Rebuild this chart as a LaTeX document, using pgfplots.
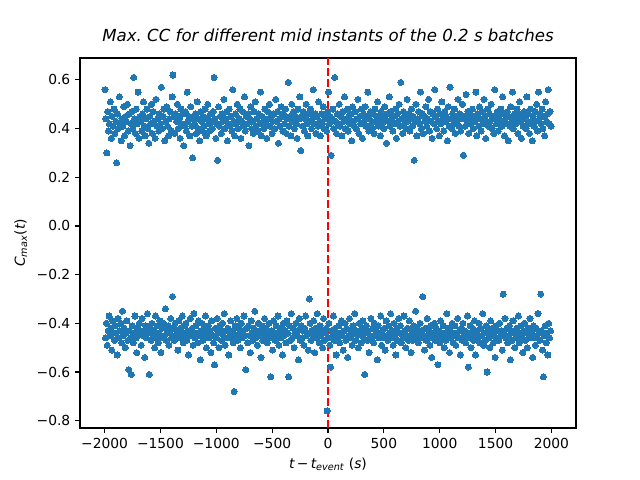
\documentclass[border=0pt]{standalone}
\usepackage{fontspec}
\setmainfont{DejaVu Sans}
\usepackage{pgfplots}
\usepackage{pgfplotstable}
\pgfplotsset{compat=1.18}
\definecolor{mplblue}{RGB}{31,119,180}

% maximum positive correlation for each batch mid instant
\pgfplotstableread{
x y
-1996 0.56
-1988 0.44
-1980 0.30
-1972 0.47
-1964 0.39
-1956 0.42
-1948 0.51
-1940 0.36
-1932 0.45
-1924 0.41
-1916 0.48
-1908 0.38
-1900 0.43
-1892 0.26
-1884 0.46
-1876 0.40
-1868 0.53
-1860 0.42
-1852 0.35
-1844 0.44
-1836 0.41
-1828 0.49
-1820 0.37
-1812 0.45
-1804 0.43
-1796 0.50
-1788 0.39
-1780 0.46
-1772 0.33
-1764 0.42
-1756 0.47
-1748 0.40
-1740 0.61
-1732 0.44
-1724 0.38
-1716 0.48
-1708 0.42
-1700 0.55
-1692 0.36
-1684 0.45
-1676 0.43
-1668 0.39
-1660 0.46
-1652 0.51
-1644 0.41
-1636 0.37
-1628 0.44
-1620 0.48
-1612 0.40
-1604 0.34
-1596 0.45
-1588 0.42
-1580 0.50
-1572 0.38
-1564 0.47
-1556 0.43
-1548 0.36
-1540 0.52
-1532 0.41
-1524 0.44
-1516 0.39
-1508 0.46
-1500 0.42
-1492 0.57
-1484 0.40
-1476 0.45
-1468 0.48
-1460 0.35
-1452 0.43
-1444 0.49
-1436 0.41
-1428 0.37
-1420 0.44
-1412 0.47
-1404 0.39
-1396 0.53
-1388 0.62
-1380 0.45
-1372 0.38
-1364 0.46
-1356 0.43
-1348 0.50
-1340 0.40
-1332 0.44
-1324 0.36
-1316 0.48
-1308 0.42
-1300 0.46
-1292 0.33
-1284 0.41
-1276 0.47
-1268 0.39
-1260 0.55
-1252 0.43
-1244 0.45
-1236 0.37
-1228 0.49
-1220 0.41
-1212 0.28
-1204 0.44
-1196 0.42
-1188 0.46
-1180 0.38
-1172 0.51
-1164 0.40
-1156 0.44
-1148 0.35
-1140 0.47
-1132 0.43
-1124 0.39
-1116 0.45
-1108 0.41
-1100 0.48
-1092 0.37
-1084 0.44
-1076 0.50
-1068 0.42
-1060 0.39
-1052 0.46
-1044 0.43
-1036 0.40
-1028 0.47
-1020 0.61
-1012 0.44
-1004 0.36
-996 0.42
-988 0.27
-980 0.49
-972 0.41
-964 0.45
-956 0.38
-948 0.46
-940 0.43
-932 0.52
-924 0.40
-916 0.44
-908 0.47
-900 0.35
-892 0.42
-884 0.48
-876 0.41
-868 0.45
-860 0.39
-852 0.56
-844 0.43
-836 0.37
-828 0.46
-820 0.42
-812 0.50
-804 0.40
-796 0.44
-788 0.48
-780 0.36
-772 0.43
-764 0.47
-756 0.41
-748 0.53
-740 0.39
-732 0.45
-724 0.42
-716 0.46
-708 0.33
-700 0.44
-692 0.49
-684 0.40
-676 0.43
-668 0.38
-660 0.47
-652 0.51
-644 0.41
-636 0.44
-628 0.39
-620 0.46
-612 0.42
-604 0.55
-596 0.37
-588 0.45
-580 0.43
-572 0.40
-564 0.48
-556 0.42
-548 0.36
-540 0.47
-532 0.44
-524 0.50
-516 0.41
-508 0.45
-500 0.38
-492 0.43
-484 0.46
-476 0.40
-468 0.52
-460 0.43
-452 0.47
-444 0.34
-436 0.44
-428 0.41
-420 0.49
-412 0.45
-404 0.39
-396 0.46
-388 0.42
-380 0.48
-372 0.38
-364 0.44
-356 0.59
-348 0.41
-340 0.45
-332 0.37
-324 0.50
-316 0.43
-308 0.47
-300 0.40
-292 0.45
-284 0.42
-276 0.36
-268 0.48
-260 0.44
-252 0.53
-244 0.31
-236 0.45
-228 0.41
-220 0.47
-212 0.39
-204 0.44
-196 0.50
-188 0.42
-180 0.37
-172 0.46
-164 0.43
-156 0.48
-148 0.40
-140 0.44
-132 0.56
-124 0.42
-116 0.46
-108 0.38
-100 0.45
-92 0.41
-84 0.51
-76 0.43
-68 0.37
-60 0.46
-52 0.42
-44 0.49
-36 0.40
-28 0.45
-20 0.44
-12 0.39
-4 0.47
4 0.55
12 0.42
20 0.45
28 0.29
36 0.44
44 0.48
52 0.40
60 0.61
68 0.43
76 0.38
84 0.46
92 0.42
100 0.50
108 0.41
116 0.45
124 0.37
132 0.47
140 0.43
148 0.53
156 0.40
164 0.44
172 0.48
180 0.39
188 0.45
196 0.42
204 0.46
212 0.35
220 0.49
228 0.43
236 0.41
244 0.47
252 0.40
260 0.44
268 0.52
276 0.38
284 0.45
292 0.42
300 0.48
308 0.36
316 0.46
324 0.43
332 0.49
340 0.41
348 0.45
356 0.55
364 0.39
372 0.44
380 0.47
388 0.42
396 0.40
404 0.46
412 0.38
420 0.48
428 0.43
436 0.45
444 0.51
452 0.41
460 0.44
468 0.37
476 0.47
484 0.42
492 0.45
500 0.40
508 0.49
516 0.44
524 0.34
532 0.46
540 0.43
548 0.53
556 0.41
564 0.47
572 0.44
580 0.39
588 0.45
596 0.42
604 0.48
612 0.36
620 0.46
628 0.43
636 0.50
644 0.41
652 0.59
660 0.44
668 0.38
676 0.47
684 0.42
692 0.45
700 0.40
708 0.52
716 0.43
724 0.46
732 0.39
740 0.44
748 0.48
756 0.41
764 0.45
772 0.27
780 0.43
788 0.50
796 0.37
804 0.44
812 0.47
820 0.42
828 0.55
836 0.40
844 0.46
852 0.38
860 0.45
868 0.43
876 0.49
884 0.41
892 0.44
900 0.52
908 0.39
916 0.47
924 0.43
932 0.36
940 0.46
948 0.42
956 0.56
964 0.45
972 0.40
980 0.48
988 0.43
996 0.37
1004 0.46
1012 0.42
1020 0.51
1028 0.44
1036 0.39
1044 0.47
1052 0.43
1060 0.45
1068 0.35
1076 0.49
1084 0.41
1092 0.57
1100 0.44
1108 0.40
1116 0.46
1124 0.42
1132 0.48
1140 0.38
1148 0.45
1156 0.43
1164 0.52
1172 0.41
1180 0.46
1188 0.39
1196 0.44
1204 0.50
1212 0.29
1220 0.45
1228 0.41
1236 0.54
1244 0.43
1252 0.47
1260 0.38
1268 0.44
1276 0.46
1284 0.42
1292 0.48
1300 0.40
1308 0.45
1316 0.43
1324 0.55
1332 0.37
1340 0.46
1348 0.41
1356 0.49
1364 0.44
1372 0.39
1380 0.47
1388 0.42
1396 0.52
1404 0.45
1412 0.36
1420 0.43
1428 0.48
1436 0.41
1444 0.46
1452 0.43
1460 0.50
1468 0.40
1476 0.45
1484 0.38
1492 0.56
1500 0.44
1508 0.42
1516 0.47
1524 0.39
1532 0.45
1540 0.43
1548 0.48
1556 0.41
1564 0.53
1572 0.46
1580 0.37
1588 0.44
1596 0.42
1604 0.47
1612 0.35
1620 0.45
1628 0.41
1636 0.49
1644 0.43
1652 0.55
1660 0.40
1668 0.46
1676 0.44
1684 0.42
1692 0.48
1700 0.38
1708 0.46
1716 0.51
1724 0.43
1732 0.36
1740 0.45
1748 0.41
1756 0.47
1764 0.44
1772 0.40
1780 0.53
1788 0.42
1796 0.46
1804 0.38
1812 0.48
1820 0.43
1828 0.35
1836 0.45
1844 0.41
1852 0.47
1860 0.43
1868 0.50
1876 0.39
1884 0.55
1892 0.44
1900 0.46
1908 0.42
1916 0.48
1924 0.40
1932 0.45
1940 0.37
1948 0.51
1956 0.43
1964 0.46
1972 0.56
1980 0.42
1988 0.47
1996 0.41
}\positivepeaks

% maximum negative correlation for each batch mid instant
\pgfplotstableread{
x y
-1992 -0.46
-1984 -0.40
-1976 -0.49
-1968 -0.43
-1960 -0.37
-1952 -0.45
-1944 -0.42
-1936 -0.51
-1928 -0.39
-1920 -0.44
-1912 -0.47
-1904 -0.41
-1896 -0.44
-1888 -0.53
-1880 -0.38
-1872 -0.46
-1864 -0.43
-1856 -0.40
-1848 -0.48
-1840 -0.35
-1832 -0.45
-1824 -0.42
-1816 -0.50
-1808 -0.44
-1800 -0.39
-1792 -0.47
-1784 -0.59
-1776 -0.43
-1768 -0.46
-1760 -0.61
-1752 -0.41
-1744 -0.48
-1736 -0.44
-1728 -0.37
-1720 -0.46
-1712 -0.52
-1704 -0.42
-1696 -0.45
-1688 -0.40
-1680 -0.43
-1672 -0.49
-1664 -0.38
-1656 -0.45
-1648 -0.43
-1640 -0.54
-1632 -0.41
-1624 -0.46
-1616 -0.36
-1608 -0.44
-1600 -0.61
-1592 -0.42
-1584 -0.47
-1576 -0.40
-1568 -0.45
-1560 -0.43
-1552 -0.50
-1544 -0.37
-1536 -0.46
-1528 -0.41
-1520 -0.48
-1512 -0.44
-1504 -0.39
-1496 -0.52
-1488 -0.42
-1480 -0.46
-1472 -0.40
-1464 -0.45
-1456 -0.34
-1448 -0.47
-1440 -0.43
-1432 -0.41
-1424 -0.49
-1416 -0.44
-1408 -0.38
-1400 -0.46
-1392 -0.29
-1384 -0.42
-1376 -0.47
-1368 -0.40
-1360 -0.45
-1352 -0.43
-1344 -0.51
-1336 -0.39
-1328 -0.46
-1320 -0.42
-1312 -0.44
-1304 -0.37
-1296 -0.48
-1288 -0.41
-1280 -0.45
-1272 -0.40
-1264 -0.47
-1256 -0.43
-1248 -0.53
-1240 -0.45
-1232 -0.38
-1224 -0.44
-1216 -0.42
-1208 -0.49
-1200 -0.36
-1192 -0.46
-1184 -0.41
-1176 -0.44
-1168 -0.48
-1160 -0.39
-1152 -0.45
-1144 -0.55
-1136 -0.43
-1128 -0.40
-1120 -0.47
-1112 -0.42
-1104 -0.45
-1096 -0.37
-1088 -0.50
-1080 -0.44
-1072 -0.41
-1064 -0.46
-1056 -0.43
-1048 -0.52
-1040 -0.39
-1032 -0.45
-1024 -0.48
-1016 -0.57
-1008 -0.42
-1000 -0.46
-992 -0.38
-984 -0.44
-976 -0.50
-968 -0.41
-960 -0.43
-952 -0.47
-944 -0.40
-936 -0.45
-928 -0.36
-920 -0.49
-912 -0.43
-904 -0.46
-896 -0.42
-888 -0.53
-880 -0.44
-872 -0.39
-864 -0.46
-856 -0.43
-848 -0.48
-840 -0.68
-832 -0.41
-824 -0.45
-816 -0.38
-808 -0.47
-800 -0.42
-792 -0.44
-784 -0.50
-776 -0.40
-768 -0.46
-760 -0.43
-752 -0.37
-744 -0.45
-736 -0.59
-728 -0.42
-720 -0.48
-712 -0.41
-704 -0.45
-696 -0.52
-688 -0.39
-680 -0.44
-672 -0.47
-664 -0.42
-656 -0.35
-648 -0.46
-640 -0.43
-632 -0.49
-624 -0.40
-616 -0.45
-608 -0.43
-600 -0.54
-592 -0.41
-584 -0.47
-576 -0.44
-568 -0.38
-560 -0.46
-552 -0.42
-544 -0.48
-536 -0.44
-528 -0.40
-520 -0.46
-512 -0.62
-504 -0.43
-496 -0.51
-488 -0.39
-480 -0.45
-472 -0.47
-464 -0.41
-456 -0.44
-448 -0.37
-440 -0.49
-432 -0.43
-424 -0.46
-416 -0.42
-408 -0.53
-400 -0.40
-392 -0.45
-384 -0.43
-376 -0.48
-368 -0.39
-360 -0.44
-352 -0.62
-344 -0.41
-336 -0.47
-328 -0.36
-320 -0.46
-312 -0.42
-304 -0.50
-296 -0.44
-288 -0.40
-280 -0.45
-272 -0.43
-264 -0.55
-256 -0.38
-248 -0.47
-240 -0.41
-232 -0.46
-224 -0.43
-216 -0.49
-208 -0.42
-200 -0.37
-192 -0.45
-184 -0.44
-176 -0.51
-168 -0.30
-160 -0.40
-152 -0.47
-144 -0.43
-136 -0.45
-128 -0.39
-120 -0.52
-112 -0.42
-104 -0.46
-96 -0.36
-88 -0.44
-80 -0.48
-72 -0.41
-64 -0.45
-56 -0.43
-48 -0.50
-40 -0.38
-32 -0.47
-24 -0.44
-16 -0.42
-8 -0.76
0 -0.46
8 -0.40
16 -0.49
24 -0.58
32 -0.43
40 -0.45
48 -0.37
56 -0.47
64 -0.42
72 -0.53
80 -0.44
88 -0.46
96 -0.41
104 -0.48
112 -0.44
120 -0.39
128 -0.45
136 -0.51
144 -0.43
152 -0.40
160 -0.47
168 -0.42
176 -0.54
184 -0.45
192 -0.38
200 -0.46
208 -0.43
216 -0.49
224 -0.41
232 -0.44
240 -0.36
248 -0.47
256 -0.43
264 -0.45
272 -0.50
280 -0.40
288 -0.44
296 -0.48
304 -0.42
312 -0.39
320 -0.46
328 -0.61
336 -0.44
344 -0.41
352 -0.47
360 -0.43
368 -0.52
376 -0.45
384 -0.38
392 -0.46
400 -0.42
408 -0.48
416 -0.40
424 -0.45
432 -0.43
440 -0.55
448 -0.41
456 -0.46
464 -0.44
472 -0.37
480 -0.49
488 -0.43
496 -0.46
504 -0.42
512 -0.51
520 -0.39
528 -0.45
536 -0.47
544 -0.41
552 -0.44
560 -0.36
568 -0.46
576 -0.43
584 -0.49
592 -0.40
600 -0.45
608 -0.53
616 -0.42
624 -0.47
632 -0.38
640 -0.44
648 -0.41
656 -0.48
664 -0.44
672 -0.46
680 -0.37
688 -0.43
696 -0.50
704 -0.45
712 -0.42
720 -0.47
728 -0.39
736 -0.45
744 -0.52
752 -0.43
760 -0.47
768 -0.41
776 -0.44
784 -0.35
792 -0.46
800 -0.42
808 -0.48
816 -0.44
824 -0.40
832 -0.46
840 -0.43
848 -0.29
856 -0.45
864 -0.51
872 -0.42
880 -0.47
888 -0.38
896 -0.45
904 -0.43
912 -0.49
920 -0.41
928 -0.54
936 -0.46
944 -0.44
952 -0.40
960 -0.47
968 -0.42
976 -0.45
984 -0.57
992 -0.43
1000 -0.48
1008 -0.39
1016 -0.46
1024 -0.44
1032 -0.41
1040 -0.50
1048 -0.44
1056 -0.47
1064 -0.36
1072 -0.45
1080 -0.42
1088 -0.52
1096 -0.43
1104 -0.46
1112 -0.40
1120 -0.48
1128 -0.45
1136 -0.41
1144 -0.49
1152 -0.44
1160 -0.38
1168 -0.46
1176 -0.43
1184 -0.53
1192 -0.42
1200 -0.47
1208 -0.40
1216 -0.45
1224 -0.43
1232 -0.48
1240 -0.44
1248 -0.37
1256 -0.58
1264 -0.46
1272 -0.41
1280 -0.50
1288 -0.44
1296 -0.42
1304 -0.47
1312 -0.39
1320 -0.53
1328 -0.45
1336 -0.43
1344 -0.46
1352 -0.40
1360 -0.48
1368 -0.42
1376 -0.45
1384 -0.36
1392 -0.49
1400 -0.44
1408 -0.47
1416 -0.41
1424 -0.60
1432 -0.43
1440 -0.46
1448 -0.50
1456 -0.39
1464 -0.45
1472 -0.42
1480 -0.48
1488 -0.44
1496 -0.54
1504 -0.41
1512 -0.46
1520 -0.43
1528 -0.47
1536 -0.40
1544 -0.45
1552 -0.43
1560 -0.51
1568 -0.28
1576 -0.44
1584 -0.38
1592 -0.46
1600 -0.42
1608 -0.48
1616 -0.45
1624 -0.41
1632 -0.55
1640 -0.43
1648 -0.47
1656 -0.39
1664 -0.44
1672 -0.50
1680 -0.46
1688 -0.42
1696 -0.45
1704 -0.37
1712 -0.48
1720 -0.44
1728 -0.41
1736 -0.46
1744 -0.52
1752 -0.43
1760 -0.40
1768 -0.47
1776 -0.44
1784 -0.50
1792 -0.42
1800 -0.45
1808 -0.38
1816 -0.46
1824 -0.43
1832 -0.54
1840 -0.41
1848 -0.45
1856 -0.49
1864 -0.42
1872 -0.46
1880 -0.36
1888 -0.44
1896 -0.47
1904 -0.28
1912 -0.43
1920 -0.51
1928 -0.62
1936 -0.45
1944 -0.41
1952 -0.48
1960 -0.44
1968 -0.53
1976 -0.40
1984 -0.46
1992 -0.43
}\negativepeaks

\begin{document}
\begin{tikzpicture}
\useasboundingbox (0,0) rectangle (6.4in,4.8in);
\begin{axis}[
  at={(0.8in,0.52in)}, anchor=south west,
  scale only axis, width=4.96in, height=3.7in,
  xmin=-2220, xmax=2220, ymin=-0.83, ymax=0.69,
  xtick={-2000,-1500,-1000,-500,0,500,1000,1500,2000},
  xticklabels={−2000,−1500,−1000,−500,0,500,1000,1500,2000},
  ytick={-0.8,-0.6,-0.4,-0.2,0,0.2,0.4,0.6},
  yticklabels={−0.8,−0.6,−0.4,−0.2,0.0,0.2,0.4,0.6},
  tick pos=left, tick align=outside,
  major tick length=3.5pt,
  tick style={black, line width=0.8pt},
  axis line style={line width=0.8pt},
  tick label style={font=\fontsize{10}{12}\selectfont},
  label style={font=\fontsize{10}{12}\selectfont},
  title style={font=\fontsize{12}{14}\selectfont\itshape, yshift=2pt},
  title={Max.\ CC for different mid instants of the 0.2 s batches},
  xlabel={{\itshape t}\,−\,{\itshape t}\textsubscript{\itshape event}\ ({\itshape s})},
  ylabel={{\itshape C}\textsubscript{\itshape max}({\itshape t})},
]
\addplot[only marks, mark=*, mark size=2.2pt, color=mplblue,
  mark options={draw=mplblue, fill=mplblue, line width=0pt}] table {\positivepeaks};
\addplot[only marks, mark=*, mark size=2.2pt, color=mplblue,
  mark options={draw=mplblue, fill=mplblue, line width=0pt}] table {\negativepeaks};
\addplot[red, line width=1.5pt, dash pattern=on 5.55pt off 2.4pt] coordinates {(0,-0.83) (0,0.69)};
\end{axis}
\end{tikzpicture}
\end{document}
